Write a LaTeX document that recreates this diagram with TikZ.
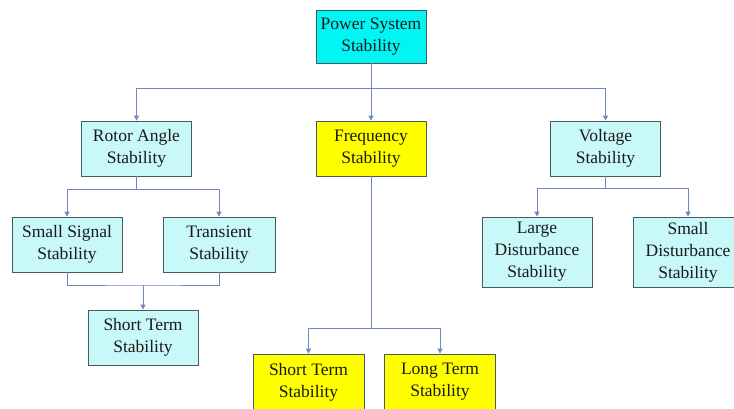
\documentclass[tikz,border=0pt]{standalone}
\usepackage{fontspec}
\setmainfont{Liberation Serif}
\newfontfamily\boxfont{Liberation Serif}
\usetikzlibrary{arrows.meta}
\definecolor{topcyan}{HTML}{00F5F5}
\definecolor{lightcyan}{HTML}{C8F8F8}
\definecolor{boxyellow}{HTML}{FFFF00}
\definecolor{boxborder}{HTML}{445C5C}
\definecolor{linkblue}{HTML}{7088C0}
\definecolor{txt}{HTML}{1A1A1A}
\tikzset{
  boxbase/.style={draw=boxborder, line width=0.8pt, align=center, inner sep=0pt,
    text=txt, font=\boxfont\fontsize{17.5}{22}\selectfont, minimum width=110pt, minimum height=55pt},
  topbox/.style={boxbase, fill=topcyan, minimum height=53pt},
  cyanbox/.style={boxbase, fill=lightcyan},
  yellowbox/.style={boxbase, fill=boxyellow},
  link/.style={draw=linkblue, line width=0.9pt},
  arrowlink/.style={link, -{Triangle[length=5pt,width=5pt]}}
}
\begin{document}
\begin{tikzpicture}[x=1pt,y=-1pt]
\clip (0,0) rectangle (734,408);
\fill[white] (0,0) rectangle (734,408);

\node[topbox] (ps) at (371,36.5) {Power System\\Stability};
\node[cyanbox] (ra) at (136.5,148.5) {Rotor Angle\\Stability};
\node[yellowbox] (fr) at (371,148.5) {Frequency\\Stability};
\node[cyanbox] (vs) at (605.5,148.5) {Voltage\\Stability};
\node[cyanbox] (ss) at (67,244.5) {Small Signal\\Stability};
\node[cyanbox, minimum width=112pt] (tr) at (219,244.5) {Transient\\Stability};
\node[cyanbox] (st) at (143,337.5) {Short Term\\Stability};
\node[cyanbox, minimum height=70pt] (lds) at (537,252) {Large\\Disturbance\\Stability};
\node[cyanbox, minimum height=70pt] (sds) at (688,252) {Small\\Disturbance\\Stability};
\node[yellowbox, minimum width=111pt, minimum height=56pt] (yst) at (308.5,382) {Short Term\\Stability};
\node[yellowbox, minimum width=111pt, minimum height=56pt] (ylt) at (440,382) {Long Term\\Stability};

\coordinate (j0) at (371,88);
\coordinate (j1) at (136.5,189);
\coordinate (j2) at (143,285);
\coordinate (j3) at (371,328);
\coordinate (j4) at (605.5,188);

\draw[link] (ps) -- (j0);
\draw[arrowlink] (j0) -| (ra);
\draw[arrowlink] (j0) -- (fr);
\draw[arrowlink] (j0) -| (vs);

\draw[link] (ra) -- (j1);
\draw[arrowlink] (j1) -| (ss);
\draw[arrowlink] (j1) -| (tr);

\draw[link] (ss.south) |- (j2) -| (tr.south);
\draw[arrowlink] (j2) -- (st);

\draw[link] (fr) -- (j3);
\draw[arrowlink] (j3) -| (yst);
\draw[arrowlink] (j3) -| (ylt);

\draw[link] (vs) -- (j4);
\draw[arrowlink] (j4) -| (lds);
\draw[arrowlink] (j4) -| (sds);
\end{tikzpicture}
\end{document}
